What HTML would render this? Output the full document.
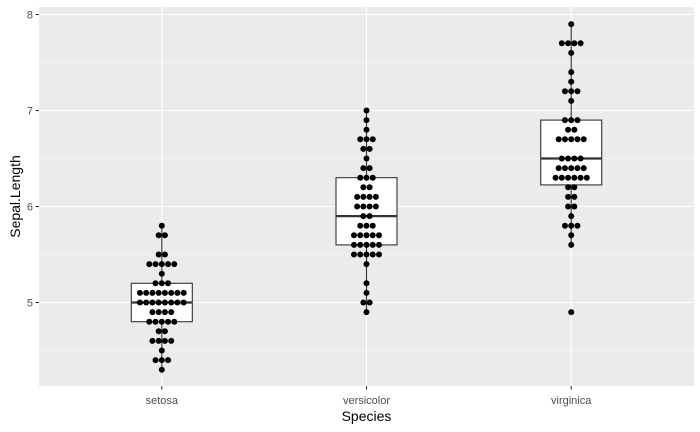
<!DOCTYPE html>
<html><head><style>
html,body{margin:0;padding:0;background:#fff;}
svg{display:block;font-family:"Liberation Sans",Arial,sans-serif;}
</style></head><body>
<svg id="s" width="700" height="432" xmlns="http://www.w3.org/2000/svg">
<rect x="0" y="0" width="700" height="432" fill="#fff"/>
<rect x="39" y="7" width="655" height="379" fill="#ebebeb"/>
<g id="grid"></g>
<g id="box"></g>
<g id="dots"></g>
<g id="axes" fill="#4d4d4d" font-size="11"></g>
<text x="366.5" y="421" font-size="14" text-anchor="middle" fill="#000">Species</text>
<text transform="translate(20,196.5) rotate(-90)" font-size="14" text-anchor="middle" fill="#000">Sepal.Length</text>
</svg>
<script>
var NS="http://www.w3.org/2000/svg";
function el(p,t,a,txt){var e=document.createElementNS(NS,t);for(var k in a)e.setAttribute(k,a[k]);if(txt)e.textContent=txt;document.getElementById(p).appendChild(e);return e;}
function Y(v){return 302.5-(v-5)*96;}
var cx=[161.8,366.5,571.2];
// grid
[4.5,5.5,6.5,7.5].forEach(function(v){el("grid","line",{x1:39,x2:694,y1:Y(v),y2:Y(v),stroke:"#fff","stroke-width":0.55});});
[5,6,7,8].forEach(function(v){el("grid","line",{x1:39,x2:694,y1:Y(v),y2:Y(v),stroke:"#fff","stroke-width":1.1});
 el("axes","line",{x1:35.5,x2:39,y1:Y(v),y2:Y(v),stroke:"#333","stroke-width":1.1});
 el("axes","text",{x:33,y:Y(v)+4,"text-anchor":"end"},String(v));});
var names=["setosa","versicolor","virginica"];
cx.forEach(function(x,i){el("grid","line",{x1:x,x2:x,y1:7,y2:386,stroke:"#fff","stroke-width":1.1});
 el("axes","line",{x1:x,x2:x,y1:386,y2:389.5,stroke:"#333","stroke-width":1.1});
 el("axes","text",{x:x,y:404,"text-anchor":"middle"},names[i]);});
// boxes
var B=[[4.3,4.8,5.0,5.2,5.8],[4.9,5.6,5.9,6.3,7.0],[5.6,6.225,6.5,6.9,7.9]];
B.forEach(function(b,i){var x=cx[i];
 el("box","line",{x1:x,x2:x,y1:Y(b[0]),y2:Y(b[1]),stroke:"#333","stroke-width":1.1});
 el("box","line",{x1:x,x2:x,y1:Y(b[3]),y2:Y(b[4]),stroke:"#333","stroke-width":1.1});
 el("box","rect",{x:x-30.5,y:Y(b[3]),width:61,height:Y(b[1])-Y(b[3]),fill:"#fff",stroke:"#333","stroke-width":1.1});
 el("box","line",{x1:x-30.5,x2:x+30.5,y1:Y(b[2]),y2:Y(b[2]),stroke:"#333","stroke-width":2.2});});
// dots
var D=[
{4.3:1,4.4:3,4.5:1,4.6:4,4.7:2,4.8:5,4.9:4,5.0:8,5.1:8,5.2:3,5.3:1,5.4:5,5.5:2,5.7:2,5.8:1},
{4.9:1,5.0:2,5.1:1,5.2:1,5.4:1,5.5:5,5.6:5,5.7:5,5.8:3,5.9:2,6.0:4,6.1:4,6.2:2,6.3:3,6.4:2,6.5:1,6.6:2,6.7:3,6.8:1,6.9:1,7.0:1},
{4.9:1,5.6:1,5.7:1,5.8:3,5.9:1,6.0:2,6.1:2,6.2:2,6.3:6,6.4:5,6.5:4,6.7:5,6.8:2,6.9:3,7.1:1,7.2:3,7.3:1,7.4:1,7.6:1,7.7:4,7.9:1}];
D.forEach(function(d,i){for(var k in d){var n=d[k],v=parseFloat(k);
 for(var j=0;j<n;j++){var x=cx[i]+(j-(n-1)/2)*6.25;
  el("dots","circle",{cx:x,cy:Y(v),r:3,fill:"#000"});}}});
</script>
</body></html>
